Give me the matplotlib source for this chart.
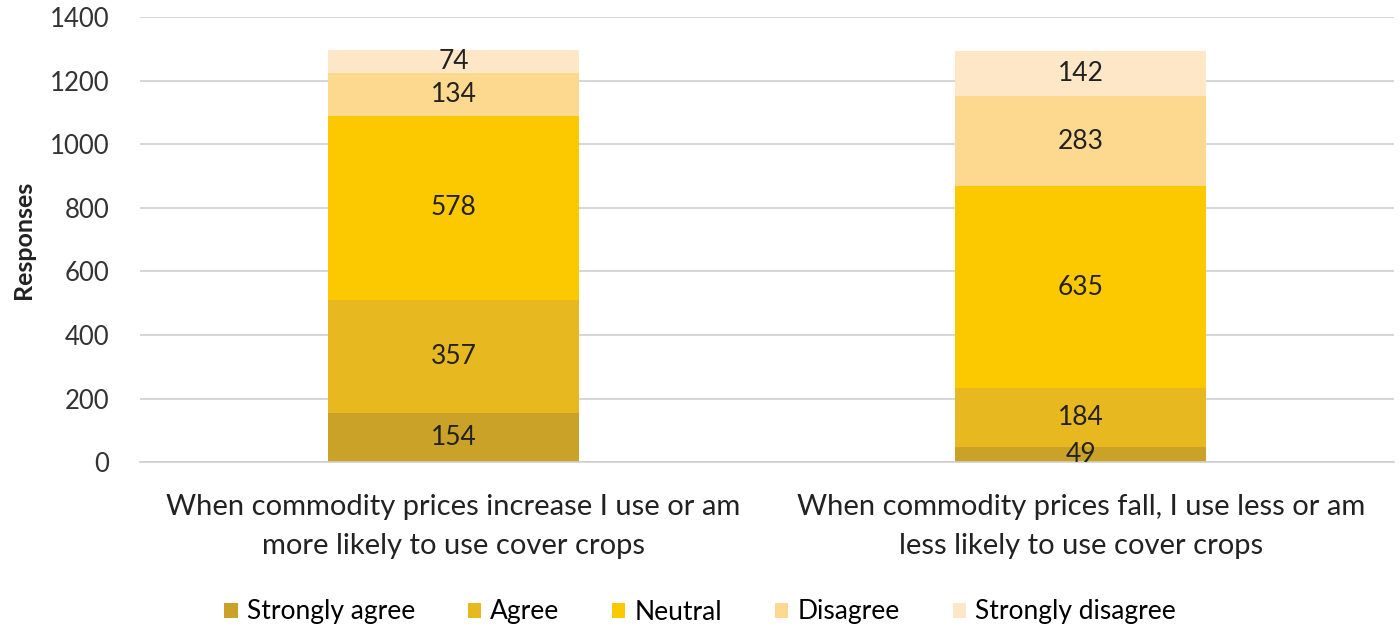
import matplotlib
matplotlib.use("Agg")
import matplotlib.pyplot as plt
import numpy as np

categories = ["When commodity prices increase I use or am\nmore likely to use cover crops",
              "When commodity prices fall, I use less or am\nless likely to use cover crops"]
series = ["Strongly agree", "Agree", "Neutral", "Disagree", "Strongly disagree"]
values = {
    "Strongly agree": [154, 49],
    "Agree": [357, 184],
    "Neutral": [578, 635],
    "Disagree": [134, 283],
    "Strongly disagree": [74, 142],
}
colors = ["#C9A227", "#E8B820", "#FCC800", "#FDD98F", "#FDE7C6"]
yticks = [0, 200, 400, 600, 800, 1000, 1200, 1400]

plt.rcParams['font.family'] = ['Lato', 'DejaVu Sans']

fig = plt.figure(figsize=(14, 6.33), dpi=100)
ax = fig.add_axes([0.1, 0.27, 0.896, 0.703])

x = np.arange(len(categories))
bottom = np.zeros(len(categories))
for s, c in zip(series, colors):
    v = np.array(values[s], dtype=float)
    ax.bar(x, v, bottom=bottom, width=0.4, color=c, label=s, zorder=2)
    for xi, vi, bi in zip(x, v, bottom):
        ax.text(xi, bi + vi / 2, f"{int(vi)}", ha='center', va='center',
                fontsize=19, color='#222222', zorder=3)
    bottom += v

ax.set_xlim(-0.5, 1.5)
ax.set_ylim(0, 1400)
ax.set_yticks(yticks)
ax.set_yticklabels([str(t) for t in yticks], fontsize=18.5, color='#333333')
ax.set_xticks(x)
ax.set_xticklabels(categories, fontsize=21, color='#222222', linespacing=1.6)
ax.tick_params(axis='both', length=0)
ax.tick_params(axis='y', pad=22)
ax.tick_params(axis='x', pad=23)
ax.yaxis.grid(True, color='#CFCFCF', linewidth=1.2, zorder=0)
ax.set_axisbelow(True)
for sp in ['top', 'right', 'left']:
    ax.spines[sp].set_visible(False)
ax.spines['bottom'].set_color('#CFCFCF')
ax.spines['bottom'].set_linewidth(1.2)
ax.set_ylabel("Responses", fontsize=18, fontweight='bold', color='#222222')
ax.yaxis.set_label_coords(-0.084, 0.5)

leg = fig.legend(loc='center', bbox_to_anchor=(0.5, 1 - 612 / 633), ncol=5, frameon=False,
                 fontsize=19, handlelength=0.5, handleheight=0.5, handletextpad=0.35,
                 columnspacing=2.0)
fig.savefig("out.png", dpi=100)
